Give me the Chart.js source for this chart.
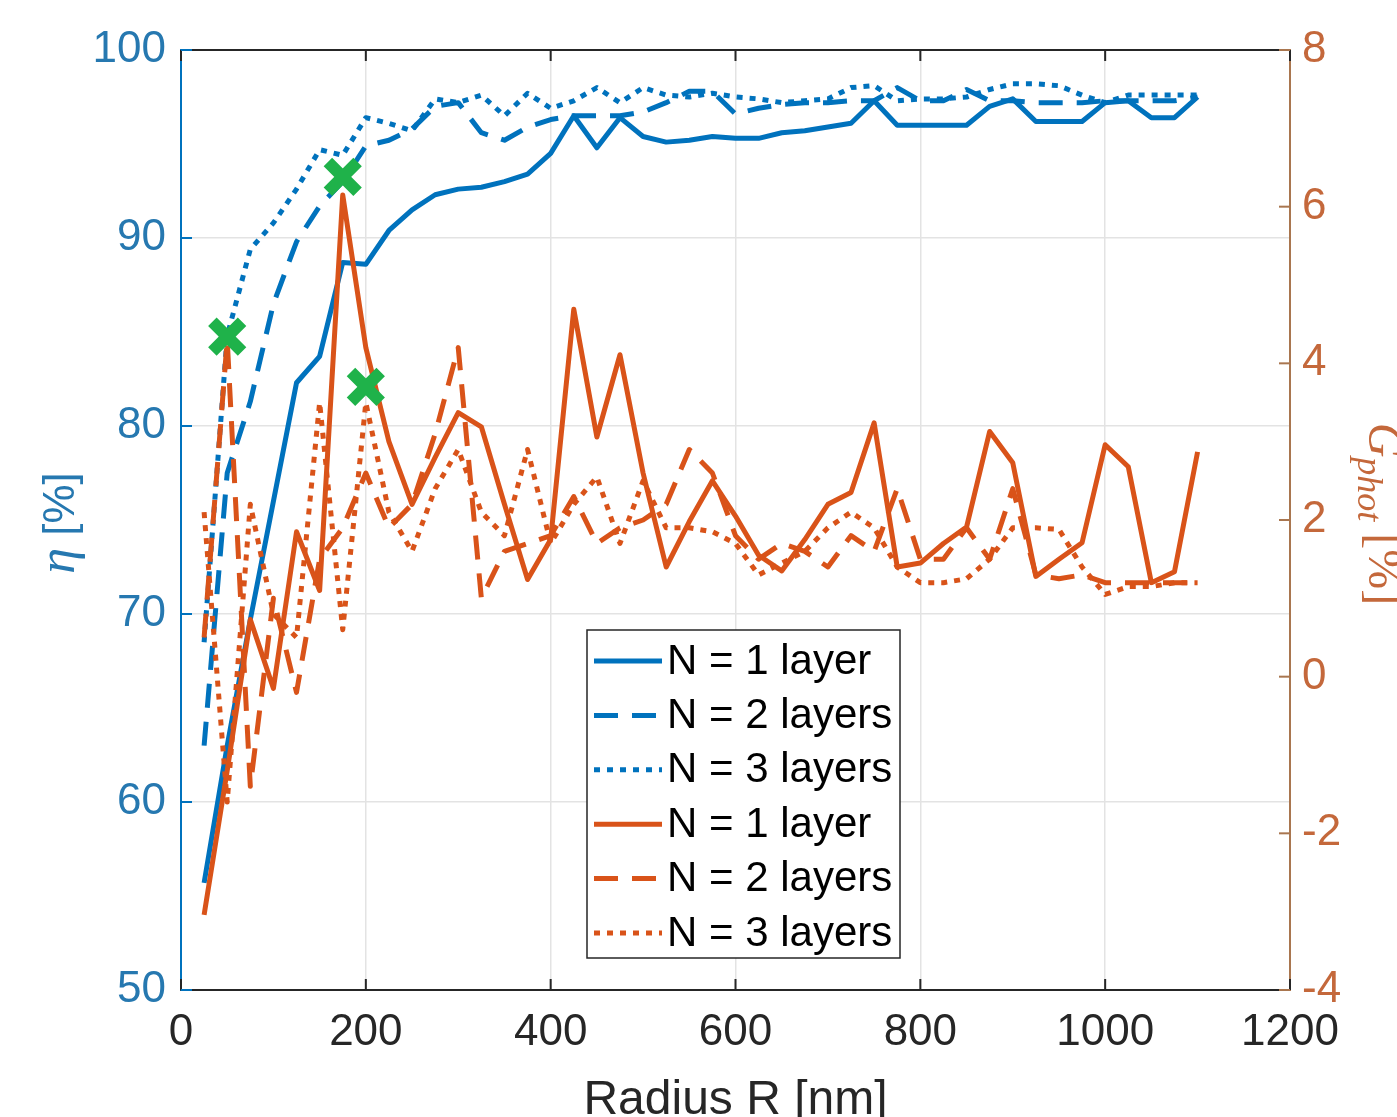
<!DOCTYPE html>
<html>
<head>
<meta charset="utf-8">
<script src="https://cdn.jsdelivr.net/npm/chart.js@4.4.1/dist/chart.umd.min.js"></script>
<style>
  html, body { margin: 0; padding: 0; background: #fff; }
  canvas { display: block; }
</style>
</head>
<body>
<canvas id="chart" width="1397" height="1117"></canvas>
<script>
/////////////////////////////////// DATA ///////////////////////////////////
const radius = [25, 50, 75, 100, 125, 150, 175, 200, 225, 250, 275, 300, 325, 350, 375, 400,
    425, 450, 475, 500, 525, 550, 575, 600, 625, 650, 675, 700, 725, 750, 775, 800,
    825, 850, 875, 900, 925, 950, 975, 1000, 1025, 1050, 1075, 1100];

// efficiency eta [%] (left axis)
const eta_N1 = [55.7, 63.0, 69.7, 76.0, 82.3, 83.7, 88.7, 88.6, 90.4, 91.5, 92.3, 92.6, 92.7, 93.0, 93.4, 94.5,
    96.5, 94.8, 96.4, 95.4, 95.1, 95.2, 95.4, 95.3, 95.3, 95.6, 95.7, 95.9, 96.1, 97.3, 96.0, 96.0,
    96.0, 96.0, 97.0, 97.4, 96.2, 96.2, 96.2, 97.2, 97.3, 96.4, 96.4, 97.5];
const eta_N2 = [63.0, 77.5, 81.3, 86.5, 89.8, 91.7, 93.0, 94.9, 95.2, 95.8, 97.0, 97.2, 95.6, 95.2, 95.9, 96.3,
    96.5, 96.5, 96.5, 96.7, 97.2, 97.8, 97.8, 96.6, 96.9, 97.1, 97.2, 97.2, 97.3, 97.3, 98.0, 97.3,
    97.3, 97.9, 97.3, 97.3, 97.2, 97.2, 97.2, 97.3, 97.3, 97.3, 97.3, 97.5];
const eta_N3 = [68.5, 84.8, 89.4, 90.8, 92.6, 94.7, 94.4, 96.4, 96.1, 95.7, 97.4, 97.2, 97.6, 96.5, 97.7, 96.9,
    97.3, 98.0, 97.2, 98.0, 97.6, 97.5, 97.7, 97.5, 97.4, 97.2, 97.3, 97.4, 98.0, 98.1, 97.3, 97.4,
    97.4, 97.5, 97.9, 98.2, 98.2, 98.1, 97.6, 97.2, 97.6, 97.6, 97.6, 97.6];

// photocurrent gain G_phot [%] (right axis)
const gphot_N1 = [-3.04, -1.2, 0.73, -0.15, 1.85, 1.1, 6.15, 4.2, 3.0, 2.2, 2.8, 3.37, 3.19, 2.2, 1.24, 1.75,
    4.69, 3.06, 4.11, 2.6, 1.4, 1.98, 2.5, 2.05, 1.55, 1.35, 1.75, 2.2, 2.35, 3.24, 1.4, 1.45,
    1.7, 1.91, 3.13, 2.73, 1.28, 1.5, 1.71, 2.96, 2.68, 1.2, 1.34, 2.87];
const gphot_N2 = [0.5, 4.3, -1.4, 1.0, -0.2, 1.5, 1.9, 2.6, 1.9, 2.2, 3.1, 4.2, 1.0, 1.6, 1.7, 1.8,
    2.3, 1.7, 1.9, 2.0, 2.2, 2.9, 2.6, 1.8, 1.5, 1.7, 1.6, 1.4, 1.8, 1.6, 2.4, 1.5,
    1.5, 1.9, 1.5, 2.4, 1.3, 1.25, 1.3, 1.2, 1.2, 1.2, 1.2, 1.2];
const gphot_N3 = [2.1, -1.6, 2.2, 0.8, 0.5, 3.5, 0.6, 3.5, 2.1, 1.6, 2.4, 2.9, 2.1, 1.8, 2.9, 1.7,
    2.2, 2.55, 1.7, 2.5, 1.9, 1.9, 1.85, 1.7, 1.3, 1.45, 1.6, 1.9, 2.1, 1.9, 1.4, 1.2,
    1.2, 1.25, 1.5, 1.9, 1.9, 1.88, 1.4, 1.05, 1.15, 1.15, 1.2, 1.2];

// maxima of G_phot, marked with green crosses
const peak_R = [50, 175, 200];
const peak_G = [4.34, 6.38, 3.70];

const legendLabels = ['N = 1 layer', 'N = 2 layers', 'N = 3 layers', 'N = 1 layer', 'N = 2 layers', 'N = 3 layers'];

/////////////////////////////////// STYLE ///////////////////////////////////
const BLUE = '#0072bd';
const ORANGE = '#d95319';
const GREEN = '#1fb24a';
const BLUE_TXT = '#2678b0';
const ORANGE_TXT = '#c4683b';
const SOLID = [];
const DASHED = [24, 14];
const DOTTED = [6, 7];
const SANS = '"Liberation Sans", Arial, sans-serif';
const SERIF = '"Liberation Serif", "Times New Roman", serif';

function lineSet(label, values, color, dash, axis) {
    return {
        type: 'line',
        label: label,
        data: radius.map((r, i) => ({ x: r, y: values[i] })),
        borderColor: color,
        backgroundColor: color,
        borderWidth: 5,
        borderDash: dash,
        borderCapStyle: 'butt',
        borderJoinStyle: 'round',
        pointRadius: 0,
        tension: 0,
        fill: false,
        yAxisID: axis,
        order: axis === 'y' ? 3 : 2
    };
}

const datasets = [
    lineSet(legendLabels[0], eta_N1, BLUE, SOLID, 'y'),
    lineSet(legendLabels[1], eta_N2, BLUE, DASHED, 'y'),
    lineSet(legendLabels[2], eta_N3, BLUE, DOTTED, 'y'),
    lineSet(legendLabels[3], gphot_N1, ORANGE, SOLID, 'y1'),
    lineSet(legendLabels[4], gphot_N2, ORANGE, DASHED, 'y1'),
    lineSet(legendLabels[5], gphot_N3, ORANGE, DOTTED, 'y1'),
    {
        type: 'scatter',
        label: 'max',
        data: peak_R.map((r, i) => ({ x: r, y: peak_G[i] })),
        yAxisID: 'y1',
        pointStyle: 'crossRot',
        pointRadius: 21,
        pointBorderWidth: 12,
        borderColor: GREEN,
        backgroundColor: GREEN,
        showLine: false,
        order: 0
    }
];

/////////////////////////////////// PLUGINS ///////////////////////////////////
// top box line and MATLAB style inward ticks
const frameTicks = {
    id: 'frameTicks',
    afterDraw(chart) {
        const { ctx, chartArea: a, scales } = chart;
        const len = 11;
        ctx.save();
        ctx.lineWidth = 2;
        ctx.strokeStyle = '#262626';
        ctx.beginPath();
        ctx.moveTo(a.left, a.top);
        ctx.lineTo(a.right, a.top);
        ctx.stroke();
        scales.x.ticks.forEach(t => {
            const px = scales.x.getPixelForValue(t.value);
            ctx.beginPath();
            ctx.moveTo(px, a.bottom); ctx.lineTo(px, a.bottom - len);
            ctx.moveTo(px, a.top); ctx.lineTo(px, a.top + len);
            ctx.stroke();
        });
        ctx.strokeStyle = BLUE;
        scales.y.ticks.forEach(t => {
            const py = scales.y.getPixelForValue(t.value);
            ctx.beginPath(); ctx.moveTo(a.left, py); ctx.lineTo(a.left + len, py); ctx.stroke();
        });
        ctx.strokeStyle = '#a9764f';
        scales.y1.ticks.forEach(t => {
            const py = scales.y1.getPixelForValue(t.value);
            ctx.beginPath(); ctx.moveTo(a.right, py); ctx.lineTo(a.right - len, py); ctx.stroke();
        });
        ctx.restore();
    }
};

// axis titles (eta italic, G with subscript)
const axisTitles = {
    id: 'axisTitles',
    afterDraw(chart) {
        const { ctx, chartArea: a } = chart;
        ctx.save();
        ctx.textBaseline = 'alphabetic';
        ctx.textAlign = 'left';

        // left: eta [%]
        ctx.save();
        ctx.translate(74, (a.top + a.bottom) / 2 + 3);
        ctx.rotate(-Math.PI / 2);
        ctx.fillStyle = BLUE_TXT;
        ctx.font = 'italic 52px ' + SERIF;
        const wEta = ctx.measureText('η').width;
        ctx.font = '44px ' + SANS;
        const wRest = ctx.measureText(' [%]').width;
        let x0 = -(wEta + wRest) / 2;
        ctx.font = 'italic 52px ' + SERIF;
        ctx.fillText('η', x0, 0);
        ctx.font = '44px ' + SANS;
        ctx.fillText(' [%]', x0 + wEta, 0);
        ctx.restore();

        // right: G_phot [%]
        ctx.save();
        ctx.translate(1369, (a.top + a.bottom) / 2 - 6);
        ctx.rotate(Math.PI / 2);
        ctx.fillStyle = ORANGE_TXT;
        ctx.font = 'italic 48px ' + SERIF;
        const wG = ctx.measureText('G').width;
        ctx.font = 'italic 36px ' + SERIF;
        const wSub = ctx.measureText('phot').width;
        ctx.font = '48px ' + SERIF;
        const wPct = ctx.measureText(' [%]').width;
        x0 = -(wG + wSub + wPct) / 2;
        ctx.font = 'italic 48px ' + SERIF;
        ctx.fillText('G', x0, 0);
        ctx.font = 'italic 36px ' + SERIF;
        ctx.fillText('phot', x0 + wG, 11);
        ctx.font = '48px ' + SERIF;
        ctx.fillText(' [%]', x0 + wG + wSub, 0);
        ctx.restore();

        // bottom: Radius R [nm]
        ctx.fillStyle = '#262626';
        ctx.font = '48px ' + SANS;
        ctx.textAlign = 'center';
        ctx.fillText('Radius R [nm]', (a.left + a.right) / 2, 1114);
        ctx.restore();
    }
};

// boxed legend inside the axes
const boxLegend = {
    id: 'boxLegend',
    afterDraw(chart) {
        const { ctx } = chart;
        const box = { left: 587, top: 630, right: 900, bottom: 958 };
        const rowTop = 661, rowStep = 54.4;
        ctx.save();
        ctx.fillStyle = '#fff';
        ctx.fillRect(box.left, box.top, box.right - box.left, box.bottom - box.top);
        ctx.strokeStyle = '#262626';
        ctx.lineWidth = 1.5;
        ctx.strokeRect(box.left, box.top, box.right - box.left, box.bottom - box.top);
        chart.data.datasets.slice(0, 6).forEach((ds, i) => {
            const y = rowTop + i * rowStep;
            ctx.strokeStyle = ds.borderColor;
            ctx.lineWidth = ds.borderWidth;
            ctx.lineCap = 'butt';
            ctx.setLineDash(ds.borderDash);
            ctx.beginPath();
            ctx.moveTo(594, y);
            ctx.lineTo(662, y);
            ctx.stroke();
            ctx.setLineDash([]);
            ctx.fillStyle = '#000';
            ctx.font = '42px ' + SANS;
            ctx.textAlign = 'left';
            ctx.textBaseline = 'middle';
            ctx.fillText(ds.label, 667, y + 1);
        });
        ctx.restore();
    }
};

/////////////////////////////////// CHART ///////////////////////////////////
const tickFont = { family: SANS, size: 44 };

new Chart(document.getElementById('chart'), {
    type: 'line',
    data: { datasets: datasets },
    plugins: [frameTicks, axisTitles, boxLegend],
    options: {
        responsive: false,
        animation: false,
        devicePixelRatio: 1,
        layout: { padding: { top: 50, left: 0, right: 0, bottom: 0 } },
        plugins: {
            legend: { display: false },
            tooltip: { enabled: false }
        },
        scales: {
            x: {
                type: 'linear',
                min: 0,
                max: 1200,
                ticks: { stepSize: 200, font: tickFont, color: '#262626', padding: 16, callback: v => String(v), maxRotation: 0 },
                grid: { color: '#e3e3e3', lineWidth: 1.5, drawTicks: false },
                border: { color: '#262626', width: 2 },
                afterFit: s => { s.height = 127; }
            },
            y: {
                type: 'linear',
                position: 'left',
                min: 50,
                max: 100,
                ticks: { stepSize: 10, font: tickFont, color: BLUE_TXT, padding: 15, callback: v => String(v) },
                grid: { color: '#e3e3e3', lineWidth: 1.5, drawTicks: false },
                border: { color: BLUE, width: 2 },
                afterFit: s => { s.width = 181; }
            },
            y1: {
                type: 'linear',
                position: 'right',
                min: -4,
                max: 8,
                ticks: { stepSize: 2, font: tickFont, color: ORANGE_TXT, padding: 12, callback: v => String(v) },
                grid: { drawOnChartArea: false, drawTicks: false },
                border: { color: '#a9764f', width: 2 },
                afterFit: s => { s.width = 107; }
            }
        }
    }
});
</script>
</body>
</html>
